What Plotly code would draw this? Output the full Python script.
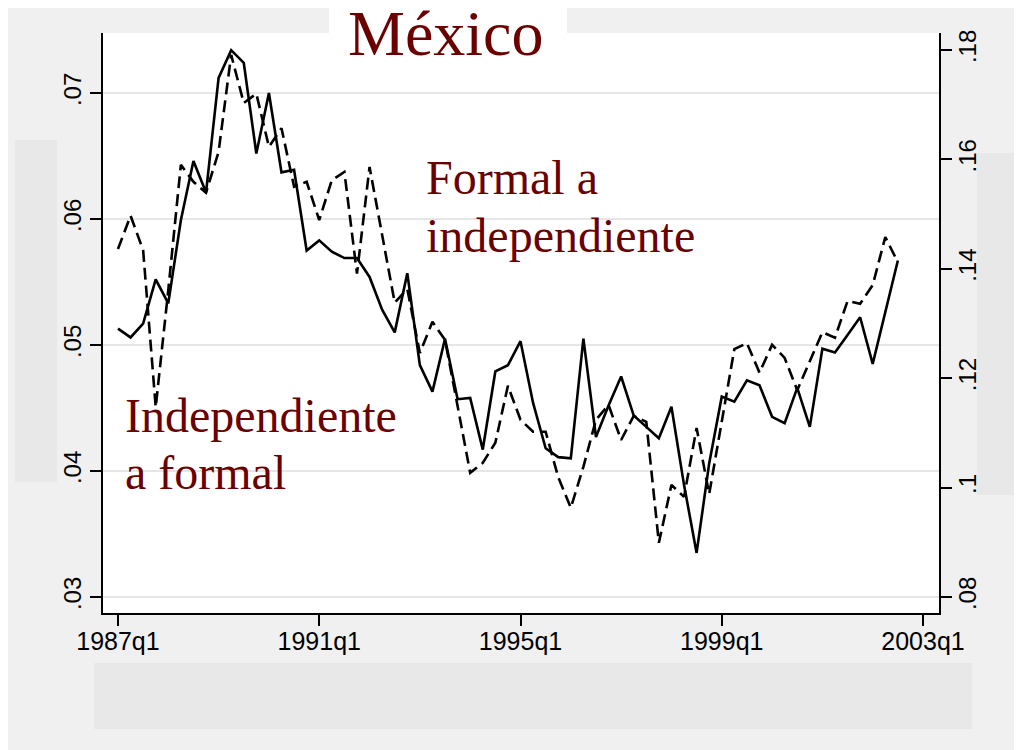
import plotly.graph_objects as go

# quarterly rates, 1987q1 .. 2002q3
# solid: independiente a formal (left axis), dashed: formal a independiente (right axis)
solid_vals = [
    0.0513, 0.0506, 0.0517, 0.0552, 0.0533, 0.0599, 0.0646, 0.0621, 0.0712, 0.0734,
    0.0724, 0.0652, 0.0700, 0.0637, 0.0639, 0.0575, 0.0583, 0.0574, 0.0569, 0.0569,
    0.0554, 0.0528, 0.0510, 0.0557, 0.0484, 0.0463, 0.0505, 0.0457, 0.0458, 0.0417,
    0.0479, 0.0484, 0.0503, 0.0454, 0.0418, 0.0411, 0.0410, 0.0505, 0.0427, 0.0452,
    0.0475, 0.0444, 0.0435, 0.0426, 0.0451, 0.0389, 0.0335, 0.0406, 0.0459, 0.0455,
    0.0472, 0.0468, 0.0443, 0.0438, 0.0466, 0.0435, 0.0497, 0.0494, 0.0508, 0.0522,
    0.0485, 0.0527, 0.0567,
]
dashed_vals = [
    0.1436, 0.1497, 0.1434, 0.1147, 0.1361, 0.1590, 0.1559, 0.1539, 0.1614, 0.1791,
    0.1703, 0.1720, 0.1623, 0.1657, 0.1550, 0.1559, 0.1489, 0.1562, 0.1577, 0.1391,
    0.1586, 0.1462, 0.1338, 0.1363, 0.1246, 0.1303, 0.1270, 0.1149, 0.1027, 0.1045,
    0.1082, 0.1186, 0.1124, 0.1102, 0.1102, 0.1019, 0.0963, 0.1038, 0.1124, 0.1151,
    0.1087, 0.1131, 0.1120, 0.0899, 0.1005, 0.0983, 0.1109, 0.0988, 0.1122, 0.1253,
    0.1264, 0.1210, 0.1261, 0.1237, 0.1178, 0.1231, 0.1284, 0.1274, 0.1341, 0.1336,
    0.1370, 0.1458, 0.1412,
]
x_ticks = [0, 16, 32, 48, 64]
x_tick_labels = ["1987q1", "1991q1", "1995q1", "1999q1", "2003q1"]
left_ticks = [0.03, 0.04, 0.05, 0.06, 0.07]
left_tick_labels = [".03", ".04", ".05", ".06", ".07"]
right_ticks = [0.08, 0.10, 0.12, 0.14, 0.16, 0.18]
right_tick_labels = [".08", ".1", ".12", ".14", ".16", ".18"]

W, H = 1022, 750
OFF = 8  # page margin: screen px -> figure px
L, R, T, B = 103 - OFF, 939 - OFF, 33 - OFF, 613 - OFF
RED = "#6b0000"
SANS = "Liberation Sans"
SERIF = "Liberation Serif"


# positions below are measured in screen px
def px(x):
    return (x - OFF - L) / (R - L)


def py(y):
    return (B - (y - OFF)) / (B - T)


quarters = list(range(len(solid_vals)))

fig = go.Figure()
fig.add_trace(go.Scatter(
    x=quarters, y=solid_vals, mode="lines",
    line=dict(color="black", width=2.6), yaxis="y",
))
fig.add_trace(go.Scatter(
    x=quarters, y=dashed_vals, mode="lines",
    line=dict(color="black", width=2.6, dash="12px,6px"), yaxis="y2",
))

# background patches around the plot area
shapes = []
def rect(x0, y0, x1, y1, color):
    shapes.append(dict(type="rect", xref="paper", yref="paper",
                       x0=px(x0), x1=px(x1), y0=py(y1), y1=py(y0),
                       fillcolor=color, line=dict(width=0), layer="below"))

rect(329, OFF, 567, 34, "white")
rect(15, 140, 57, 482, "#e8e8e8")
rect(977, 153, W + 20, 495, "#e8e8e8")
rect(94, 663, 972, 729, "#e8e8e8")

def label(text, x, baseline, size, anchor="left"):
    return dict(text=text, xref="paper", yref="paper",
                x=px(x), y=py(baseline - 0.3375 * size),
                xanchor=anchor, yanchor="middle", showarrow=False,
                font=dict(family=SERIF, size=size, color=RED))

annotations = [
    label("México", 446, 55, 64, "center"),
    label("Formal a", 424, 194, 48),
    label("independiente", 424, 252, 48),
    label("Independiente", 123, 432, 48),
    label("a formal", 123, 489, 48),
]

axis_common = dict(
    ticks="outside", ticklen=11, tickwidth=1.5, tickcolor="black",
    showline=True, linecolor="black", linewidth=1.5, zeroline=False,
)

fig.update_layout(
    width=W, height=H, autosize=False,
    margin=dict(l=L, r=W - R, t=T, b=H - B),
    paper_bgcolor="#f0f0f0", plot_bgcolor="white",
    showlegend=False,
    shapes=shapes, annotations=annotations,
    xaxis=dict(range=[-1.19, 65.27], tickvals=x_ticks, ticktext=x_tick_labels,
               showgrid=False, ticklabelstandoff=-6,
               tickfont=dict(family=SANS, size=25, color="black"),
               **axis_common),
    yaxis=dict(range=[0.02873, 0.07476], tickvals=left_ticks, ticktext=left_tick_labels,
               tickangle=-90, showgrid=True, gridcolor="#e6e6e6", gridwidth=2,
               tickfont=dict(family=SANS, size=24, color="black"), **axis_common),
    yaxis2=dict(range=[0.07707, 0.1831], tickvals=right_ticks, ticktext=right_tick_labels,
                overlaying="y", side="right", tickangle=-90, showgrid=False,
                ticklabelstandoff=-5,
                tickfont=dict(family=SANS, size=24, color="black"), **axis_common),
)

fig.write_html("out.html")
